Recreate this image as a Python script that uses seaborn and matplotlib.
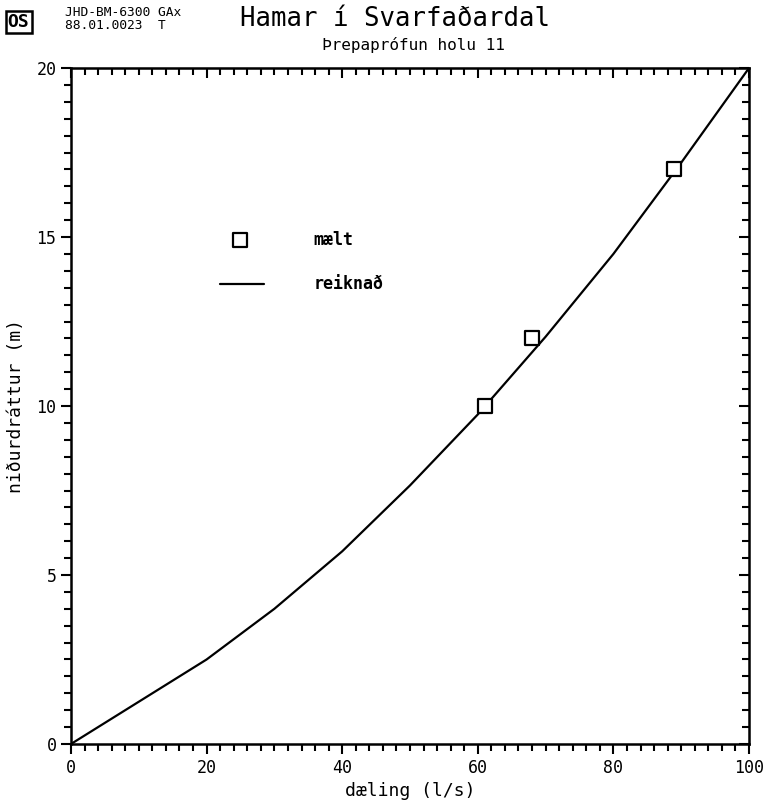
import matplotlib
matplotlib.use("Agg")
import matplotlib.pyplot as plt
import numpy as np
import pandas as pd
import seaborn as sns
from matplotlib.ticker import MultipleLocator

# mæld gildi
maelt_q = [61, 68, 89]
maelt_s = [10, 12, 17]

# reiknaður ferill
reikn_q = [0, 10, 20, 30, 40, 50, 60, 70, 80, 90, 100]
reikn_s = [0, 1.25, 2.5, 4.0, 5.7, 7.65, 9.75, 12.05, 14.5, 17.2, 20.0]

df_m = pd.DataFrame({"q": maelt_q, "s": maelt_s})
df_r = pd.DataFrame({"q": reikn_q, "s": reikn_s})

sns.set_style("white")
plt.rcParams['font.family'] = ['DejaVu Sans Mono', 'DejaVu Sans']
plt.rcParams['text.color'] = 'black'
plt.rcParams['axes.labelcolor'] = 'black'
plt.rcParams['xtick.color'] = 'black'
plt.rcParams['ytick.color'] = 'black'

fig = plt.figure(figsize=(7.69, 8.10), dpi=100)
ax = fig.add_axes([0.0923, 0.0815, 0.8817, 0.8345])

sns.lineplot(data=df_r, x="q", y="s", color="black", lw=1.6, ax=ax)
sns.scatterplot(data=df_m, x="q", y="s", marker="s", s=90, facecolor="white",
                edgecolor="black", linewidth=1.6, ax=ax, zorder=3)

ax.set_xlim(0, 100)
ax.set_ylim(0, 20)
ax.xaxis.set_major_locator(MultipleLocator(20))
ax.xaxis.set_minor_locator(MultipleLocator(2))
ax.yaxis.set_major_locator(MultipleLocator(5))
ax.yaxis.set_minor_locator(MultipleLocator(0.5))
for sp in ax.spines.values():
    sp.set_color("black")
    sp.set_linewidth(1.8)

ax.tick_params(axis="x", which="both", bottom=True, top=False, direction="out",
               labelsize=12, width=1.5)
ax.tick_params(axis="y", which="both", left=True, right=False, direction="out",
               labelsize=12, width=1.5)
ax.tick_params(which="major", length=7)
ax.tick_params(which="minor", length=5)

# ticks on top and right axis pointing the same way
top = ax.secondary_xaxis("top")
top.xaxis.set_major_locator(MultipleLocator(20))
top.xaxis.set_minor_locator(MultipleLocator(2))
top.tick_params(which="both", direction="in", labeltop=False, width=1.5)
top.tick_params(which="major", length=7)
top.tick_params(which="minor", length=5)
right = ax.secondary_yaxis("right")
right.yaxis.set_major_locator(MultipleLocator(5))
right.yaxis.set_minor_locator(MultipleLocator(0.5))
right.tick_params(which="both", direction="in", labelright=False, width=1.5)
right.tick_params(which="major", length=7)
right.tick_params(which="minor", length=5)

ax.set_xlabel("dæling (l/s)", fontsize=13, labelpad=4)
ax.set_ylabel("niðurdráttur (m)", fontsize=13, labelpad=8)

# legend
ax.scatter([25], [14.9], marker="s", s=90, facecolor="white", edgecolor="black",
           linewidth=1.6, zorder=3)
ax.text(35.8, 14.9, "mælt", fontsize=12, va="center", ha="left", weight="bold")
ax.plot([22, 28.5], [13.6, 13.6], color="black", lw=1.6)
ax.text(35.8, 13.6, "reiknað", fontsize=12, va="center", ha="left", weight="bold")

# header
fig.text(0.010, 0.973, "OS", fontsize=13, weight="bold", va="center", ha="left",
         bbox=dict(boxstyle="square,pad=0.12", fc="white", ec="black", lw=1.8))
fig.text(0.084, 0.984, "JHD-BM-6300 GAx", fontsize=9.3, va="center", ha="left")
fig.text(0.084, 0.968, "88.01.0023  T", fontsize=9.3, va="center", ha="left")
fig.text(0.312, 0.977, "Hamar í Svarfaðardal", fontsize=18.5, va="center", ha="left")
fig.text(0.538, 0.944, "Þrepaprófun holu 11", fontsize=11.5, va="center", ha="center")

fig.savefig("out.png", dpi=100)
